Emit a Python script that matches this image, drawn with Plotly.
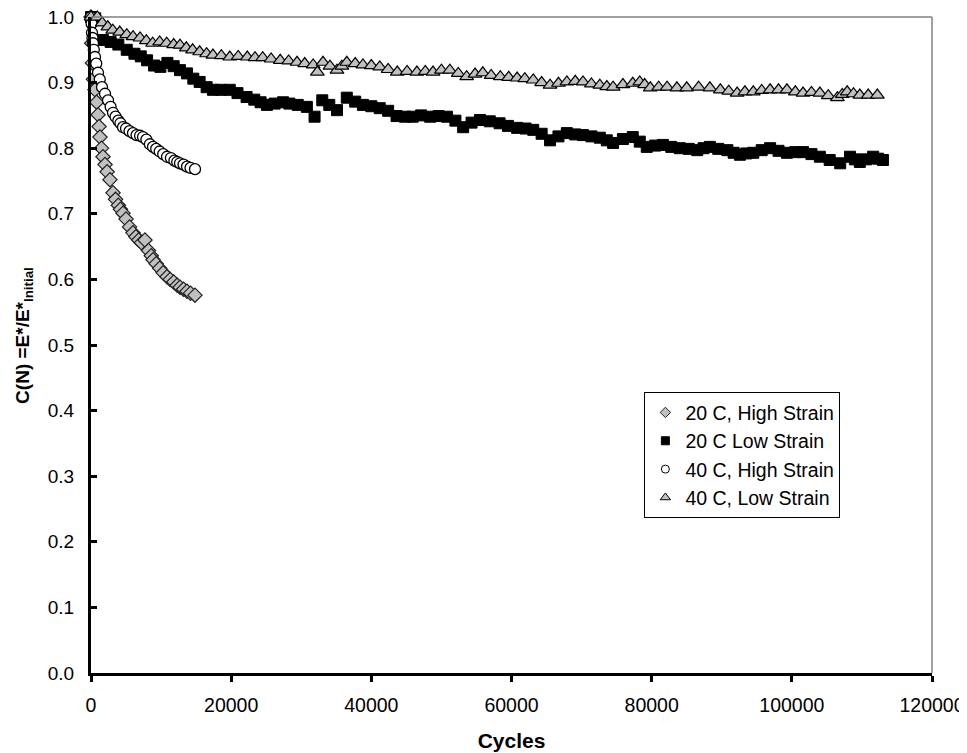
import plotly.graph_objects as go

# ---- Data ----
hs20_x = [0, 100, 200, 350, 570, 800, 1000, 1150, 1280, 1500, 1710, 2000, 2300, 2710, 3140, 3500,
          3900, 4200, 4570, 5000, 5500, 5990, 6400, 6800, 7200, 7700, 8200, 8600, 8850, 9300, 9800,
          10300, 10850, 11300, 11800, 12300, 12700, 13200, 13700, 14200, 14840]
hs20_y = [1.000, 0.960, 0.930, 0.905, 0.889, 0.870, 0.851, 0.833, 0.817, 0.800, 0.787, 0.775, 0.764,
          0.752, 0.732, 0.722, 0.713, 0.707, 0.701, 0.692, 0.680, 0.671, 0.665, 0.660, 0.656, 0.660,
          0.644, 0.636, 0.630, 0.624, 0.617, 0.610, 0.604, 0.600, 0.596, 0.591, 0.588, 0.585, 0.582,
          0.579, 0.576]

ls20_x = [0, 600, 1700, 2800, 3900, 5100, 6200, 7100, 8000, 9000, 9900, 10900, 11800, 12700, 13700,
          14600, 15500, 16500, 17400, 18500, 19800, 20900, 22200, 23300, 24200, 25100, 26200, 27400,
          28300, 29500, 30800, 31900, 33000, 34000, 35100, 36500, 37700, 38800, 40000, 41200, 42400,
          43600, 44800, 45900, 47100, 48400, 49600, 50800, 52000, 53100, 54300, 55500, 56900, 58300,
          59500, 60800, 62000, 63100, 64300, 65500, 66700, 67900, 69100, 70200, 71400, 72600, 73600,
          74500, 75900, 77300, 78300, 79300, 80500, 81600, 82800, 84000, 85300, 86500, 87400, 88300,
          89500, 90800, 91700, 92600, 93500, 94500, 95700, 96900, 98100, 99300, 100500, 101600,
          102800, 104000, 105400, 106900, 108300, 109000, 109700, 110600, 111600, 112300, 113000]
ls20_y = [1.000, 0.998, 0.965, 0.962, 0.958, 0.950, 0.944, 0.940, 0.934, 0.926, 0.924, 0.930, 0.925,
          0.919, 0.914, 0.906, 0.901, 0.893, 0.889, 0.889, 0.889, 0.884, 0.878, 0.874, 0.870, 0.866,
          0.868, 0.870, 0.868, 0.866, 0.863, 0.848, 0.873, 0.866, 0.858, 0.877, 0.871, 0.866, 0.864,
          0.861, 0.857, 0.849, 0.848, 0.848, 0.850, 0.848, 0.849, 0.848, 0.842, 0.832, 0.839, 0.843,
          0.841, 0.838, 0.834, 0.831, 0.830, 0.828, 0.822, 0.812, 0.818, 0.823, 0.821, 0.820, 0.818,
          0.816, 0.812, 0.808, 0.814, 0.817, 0.810, 0.802, 0.804, 0.805, 0.802, 0.800, 0.799, 0.797,
          0.800, 0.802, 0.799, 0.797, 0.793, 0.790, 0.792, 0.793, 0.797, 0.800, 0.796, 0.793, 0.794,
          0.794, 0.791, 0.787, 0.782, 0.777, 0.787, 0.783, 0.779, 0.783, 0.787, 0.784, 0.782]

hs40_x = [0, 80, 140, 210, 285, 400, 570, 750, 1000, 1250, 1570, 2000, 2430, 2800, 3140, 3500, 3900,
          4200, 4570, 5000, 5500, 5990, 6500, 7000, 7420, 7900, 8400, 8850, 9300, 9800, 10300, 10850,
          11400, 11900, 12300, 12700, 13200, 13700, 14200, 14840]
hs40_y = [1.000, 0.990, 0.976, 0.968, 0.960, 0.950, 0.939, 0.929, 0.915, 0.905, 0.893, 0.883, 0.873,
          0.863, 0.854, 0.848, 0.842, 0.838, 0.832, 0.830, 0.826, 0.823, 0.820, 0.819, 0.817, 0.813,
          0.806, 0.802, 0.799, 0.795, 0.791, 0.787, 0.785, 0.781, 0.779, 0.777, 0.775, 0.772, 0.770,
          0.768]

ls40_x = [0, 900, 1600, 2400, 3100, 4100, 5100, 6000, 7000, 7900, 8800, 9800, 10800, 11800, 12700,
          13600, 14500, 15500, 16500, 17400, 18600, 19800, 21000, 22300, 23400, 24500, 25700, 27000,
          28200, 29400, 30500, 31700, 32300, 33100, 34100, 35100, 35800, 36500, 37700, 38800, 40000,
          41200, 42400, 43700, 45100, 46500, 47700, 48800, 50000, 51200, 52400, 53600, 54800, 55900,
          57100, 58400, 59600, 60800, 61900, 63100, 64300, 65500, 66700, 67900, 69100, 70200, 71400,
          72600, 73600, 74500, 75900, 77300, 78300, 79000, 79800, 81000, 82200, 83600, 85000, 86700,
          88300, 89800, 91000, 92200, 93300, 94500, 95700, 96900, 98100, 99300, 100500, 101600,
          102800, 104000, 105200, 106500, 107200, 107900, 108800, 109700, 110900, 112200]
ls40_y = [1.000, 1.000, 0.991, 0.985, 0.980, 0.977, 0.973, 0.970, 0.968, 0.964, 0.960, 0.962, 0.960,
          0.958, 0.957, 0.953, 0.950, 0.947, 0.944, 0.942, 0.941, 0.939, 0.940, 0.939, 0.938, 0.938,
          0.936, 0.934, 0.933, 0.931, 0.929, 0.927, 0.916, 0.931, 0.925, 0.919, 0.925, 0.931, 0.929,
          0.927, 0.926, 0.924, 0.920, 0.916, 0.917, 0.916, 0.917, 0.916, 0.919, 0.919, 0.914, 0.909,
          0.913, 0.915, 0.911, 0.909, 0.908, 0.907, 0.906, 0.904, 0.900, 0.896, 0.899, 0.901, 0.902,
          0.901, 0.898, 0.896, 0.894, 0.893, 0.897, 0.899, 0.901, 0.897, 0.892, 0.893, 0.893, 0.892,
          0.892, 0.893, 0.892, 0.889, 0.887, 0.884, 0.886, 0.886, 0.888, 0.889, 0.889, 0.889, 0.886,
          0.884, 0.885, 0.884, 0.880, 0.877, 0.882, 0.886, 0.883, 0.881, 0.881, 0.881]

series_names = ["20 C, High Strain", "20 C Low Strain", "40 C, High Strain", "40 C, Low Strain"]
x_ticks = [0, 20000, 40000, 60000, 80000, 100000, 120000]
y_ticks = [0.0, 0.1, 0.2, 0.3, 0.4, 0.5, 0.6, 0.7, 0.8, 0.9, 1.0]
x_title = "<b>Cycles</b>"
y_title = "<b>C(N) =E*/E*<sub>Initial</sub></b>"

FONT = "Arial, 'Liberation Sans', sans-serif"

styles = [
    dict(symbol="diamond", size=11, color="#c0c0c0", line=dict(color="#202020", width=1.2)),
    dict(symbol="square", size=11, color="#000000", line=dict(color="#000000", width=1)),
    dict(symbol="circle", size=11, color="#ffffff", line=dict(color="#000000", width=1.3)),
    dict(symbol="triangle-up", size=12, color="#c0c0c0", line=dict(color="#000000", width=1.2)),
]
legend_sizes = [8, 8, 8, 9]
data = [(hs20_x, hs20_y), (ls20_x, ls20_y), (hs40_x, hs40_y), (ls40_x, ls40_y)]

fig = go.Figure()
for (xs, ys), name, st in zip(data, series_names, styles):
    fig.add_trace(go.Scatter(x=xs, y=ys, mode="markers", name=name, showlegend=False,
                             cliponaxis=False, marker=st))
# legend-only entries with the small symbols seen in the legend box
for name, st, ls in zip(series_names, styles, legend_sizes):
    m = dict(st)
    m["size"] = ls
    m["line"] = dict(color=st["line"]["color"], width=1)
    fig.add_trace(go.Scatter(x=[None], y=[None], mode="markers", name=name,
                             showlegend=True, marker=m))

# page body adds an 8px offset; margins compensate so the plot area sits at x 91-932, y 17-673
fig.update_layout(
    width=967, height=753,
    margin=dict(l=83, r=43, t=9, b=88),
    paper_bgcolor="white", plot_bgcolor="white",
    font=dict(family=FONT, size=19, color="black"),
    showlegend=True,
    legend=dict(x=0.658, y=0.428, xanchor="left", yanchor="top",
                bgcolor="white", bordercolor="black", borderwidth=1,
                font=dict(family=FONT, size=19.5, color="black"),
                itemwidth=30, tracegroupgap=0),
    shapes=[
        dict(type="line", xref="paper", yref="paper", x0=0, x1=1, y0=1, y1=1,
             line=dict(color="#808080", width=1.5)),
        dict(type="line", xref="paper", yref="paper", x0=1, x1=1, y0=0, y1=1,
             line=dict(color="#808080", width=1.5)),
    ],
    annotations=[
        dict(text=y_title, xref="paper", yref="paper", x=-0.080, y=0.515,
             xanchor="center", yanchor="middle", textangle=-90, showarrow=False,
             font=dict(family=FONT, size=19, color="black")),
    ],
)

fig.update_xaxes(
    range=[0, 120000], tickvals=x_ticks, ticktext=[str(v) for v in x_ticks],
    automargin=False,
    showgrid=False, zeroline=False,
    showline=True, linecolor="black", linewidth=3,
    ticks="outside", ticklen=6, tickwidth=2.5, tickcolor="black",
    ticklabelstandoff=7, ticklabeloverflow="allow",
    tickfont=dict(family=FONT, size=19.5, color="black"),
    title=dict(text=x_title, font=dict(family=FONT, size=21, color="black"), standoff=18),
)
fig.update_yaxes(
    range=[0, 1.0], tickvals=y_ticks, ticktext=[f"{v:.1f}" for v in y_ticks],
    automargin=False,
    showgrid=False, zeroline=False,
    showline=True, linecolor="black", linewidth=3,
    ticks="inside", ticklen=6, tickwidth=2.5, tickcolor="black",
    ticklabelstandoff=10, ticklabeloverflow="allow",
    tickfont=dict(family=FONT, size=19, color="black"),
)

fig.write_html("out.html")
